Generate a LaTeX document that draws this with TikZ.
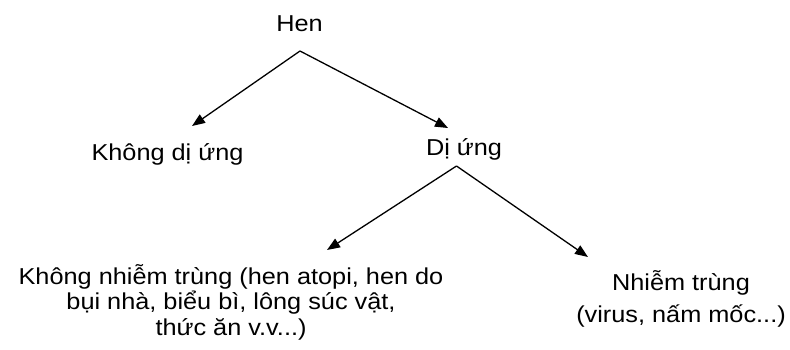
\documentclass[tikz,border=0pt]{standalone}
\usepackage{fontspec}
\setmainfont{Liberation Sans}[FakeStretch=1.1]
\usepackage{tikz}
\usetikzlibrary{arrows.meta}

\begin{document}
\begin{tikzpicture}[x=1pt,y=-1pt,
    every node/.style={inner sep=0pt,font=\fontsize{23}{25.5}\selectfont},
    arr/.style={-{Triangle[length=13pt,width=10pt]},line width=1.3pt}]
    \useasboundingbox (0,0) rectangle (790,349);

    \node[anchor=base] (hen) at (299.5,31.7) {Hen};
    \node[anchor=base] (khongdiung) at (167.5,160) {Không dị ứng};
    \node[anchor=base] (diung) at (464,155) {Dị ứng};

    \node[anchor=base,align=center] (khongnhiem) at (231,335) {Không nhiễm trùng (hen atopi, hen do\\bụi nhà, biểu bì, lông súc vật,\\thức ăn v.v...)};
    \node[anchor=base,align=center] (nhiem) at (681,322) {Nhiễm trùng\\[6.5pt](virus, nấm mốc...)};

    \draw[arr] ([xshift=0.5pt,yshift=-19.3pt]hen.base) -- ([xshift=24.5pt,yshift=34pt]khongdiung.base);
    \draw[arr] ([xshift=0.5pt,yshift=-19.3pt]hen.base) -- ([xshift=-16pt,yshift=27pt]diung.base);

    \draw[arr] ([xshift=-7.5pt,yshift=-11pt]diung.base) -- ([xshift=96pt,yshift=85pt]khongnhiem.base);
    \draw[arr] ([xshift=-7.5pt,yshift=-11pt]diung.base) -- ([xshift=-93pt,yshift=65pt]nhiem.base);
\end{tikzpicture}
\end{document}
